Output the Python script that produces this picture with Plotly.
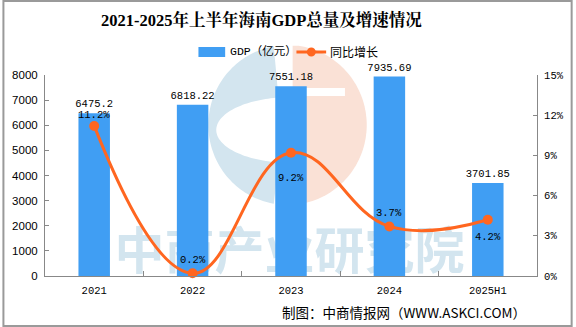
import numpy as np
import plotly.graph_objects as go

# Data
years = ["2021", "2022", "2023", "2024", "2025H1"]
gdp = [6475.2, 6818.22, 7551.18, 7935.69, 3701.85]
growth = [11.2, 0.2, 9.2, 3.7, 4.2]

# vertical offsets (px) of the growth labels relative to their markers
growth_label_shift = [11, 13, -25, 13, -17]

W, H = 576, 327
L, R, T, B = 43, 540, 75, 276  # plot area in pixels


def px(x):
    return (x - L) / (R - L)


def py(y):
    return (B - y) / (B - T)


BLUE = "#409EF3"
ORANGE = "#FF6620"
WM_BLUE = "#D3E5EF"
MONO = "Liberation Mono, DejaVu Sans Mono, monospace"
CJK = "Noto Sans CJK SC"

fig = go.Figure()

# Watermark text lives in the base subplot so the bars cover it
fig.add_trace(go.Scatter(
    x=[px(290)], y=[py(256)], xaxis="x", yaxis="y", mode="text",
    text=["<b>中商产业研究院</b>"], textposition="middle center",
    textfont=dict(family=CJK, size=50, color=WM_BLUE),
    hoverinfo="skip", showlegend=False, cliponaxis=False,
))

fig.add_trace(go.Bar(
    x=years, y=gdp, name="GDP（亿元）", xaxis="x2", yaxis="y2",
    marker=dict(color=BLUE, line=dict(width=0)),
    text=[f"{v:g}" for v in gdp], textposition="outside", constraintext="none",
    textfont=dict(family=MONO, size=10.5, color="#000"),
    cliponaxis=False, showlegend=False,
))

fig.add_trace(go.Scatter(
    x=years, y=growth, name="同比增长", xaxis="x2", yaxis="y3",
    mode="lines+markers",
    line=dict(color=ORANGE, width=3, shape="spline", smoothing=1.2),
    marker=dict(color=ORANGE, size=10),
    cliponaxis=False, showlegend=False,
))

annotations = []
# category positions are given by index so that year-like strings are not read as numbers
for i, (g, s) in enumerate(zip(growth, growth_label_shift)):
    annotations.append(dict(x=i, y=g, xref="x2", yref="y3", text=f"{g}%",
                            showarrow=False, yshift=s, xanchor="center", yanchor="middle",
                            font=dict(family=MONO, size=10.5, color="#000")))

# Watermark logo: blue "C" ring and peach half disc
cx, cy, r = 288, 125, 80
shapes = []
ang = np.linspace(np.deg2rad(100), np.deg2rad(260), 80)
outer = [(cx + r * np.cos(a), cy - r * np.sin(a)) for a in ang]
icx, icy, irx, iry = 292, 130, 76, 33
inner = [(icx + irx * np.cos(a), icy - iry * np.sin(a)) for a in ang[::-1]]
path = "M " + " L ".join(f"{px(x):.4f},{py(y):.4f}" for x, y in outer + inner) + " Z"
shapes.append(dict(type="path", xref="paper", yref="paper", path=path,
                   fillcolor=WM_BLUE, line=dict(width=0), layer="below"))
ang_p = np.linspace(np.deg2rad(-82), np.deg2rad(82), 80)
peach = [(cx + r * np.cos(a), cy - r * np.sin(a)) for a in ang_p]
pp = [(peach[0][0] - 6, peach[0][1])] + peach + [(peach[-1][0] - 6, peach[-1][1])]
ppath = "M " + " L ".join(f"{px(x):.4f},{py(y):.4f}" for x, y in pp) + " Z"
shapes.append(dict(type="path", xref="paper", yref="paper", path=ppath,
                   fillcolor="#FAE1D6", line=dict(width=0), layer="below"))
shapes.append(dict(type="rect", xref="paper", yref="paper",
                   x0=px(282), x1=px(346), y0=py(96), y1=py(88),
                   fillcolor="white", line=dict(width=0), layer="below"))

# legend drawn by hand: wide bar swatch and line-with-dot swatch
shapes.append(dict(type="rect", xref="paper", yref="paper",
                   x0=px(198), x1=px(225), y0=py(57), y1=py(47),
                   fillcolor=BLUE, line=dict(width=0)))
shapes.append(dict(type="line", xref="paper", yref="paper",
                   x0=px(297), x1=px(327), y0=py(52), y1=py(52),
                   line=dict(color=ORANGE, width=3)))
shapes.append(dict(type="circle", xref="paper", yref="paper",
                   x0=px(307.5), x1=px(316.5), y0=py(56.5), y1=py(47.5),
                   fillcolor=ORANGE, line=dict(width=0)))
annotations += [
    dict(text="GDP（亿元）", x=px(228), y=py(52), xref="paper", yref="paper",
         xanchor="left", yanchor="middle", showarrow=False,
         font=dict(family=MONO + ", " + CJK, size=11.5, color="#000")),
    dict(text="同比增长", x=px(329), y=py(52), xref="paper", yref="paper",
         xanchor="left", yanchor="middle", showarrow=False,
         font=dict(family=CJK, size=12, color="#000")),
]

# outer frame
shapes.append(dict(type="rect", xref="paper", yref="paper",
                   x0=px(1), x1=px(575), y0=py(326), y1=py(1),
                   line=dict(color="#9a9a9a", width=2), fillcolor="rgba(0,0,0,0)"))

annotations += [
    dict(text="<b>2021-2025年上半年海南GDP总量及增速情况</b>", x=px(262), y=py(20),
         xref="paper", yref="paper", xanchor="center", yanchor="middle", showarrow=False,
         font=dict(family="Liberation Serif, Noto Serif CJK SC, serif", size=16.5, color="#000")),
    dict(text="制图：中商情报网（WWW.ASKCI.COM）", x=px(406), y=py(312),
         xref="paper", yref="paper", xanchor="center", yanchor="middle", showarrow=False,
         font=dict(family=CJK, size=13.5, color="#000")),
]

fig.update_layout(
    width=W, height=H,
    margin=dict(l=L, r=W - R, t=T, b=H - B),
    paper_bgcolor="white", plot_bgcolor="rgba(0,0,0,0)",
    bargap=0.68,
    showlegend=False,
    # hidden base axes (unit square) for the watermark
    xaxis=dict(range=[0, 1], visible=False, fixedrange=True),
    yaxis=dict(range=[0, 1], visible=False, fixedrange=True),
    xaxis2=dict(type="category", range=[-0.5, 4.5], overlaying="x", showline=True,
                linecolor="#888", linewidth=1, ticks="inside", tickson="boundaries",
                ticklen=5, tickcolor="#888", ticklabelstandoff=4,
                tickfont=dict(family=MONO, size=10.5, color="#000"), showgrid=False),
    yaxis2=dict(range=[0, 8000], dtick=1000, overlaying="y", side="left", showline=True,
                linecolor="#888", ticks="inside", ticklen=4, tickcolor="#888",
                showgrid=False, zeroline=False, ticklabelstandoff=4,
                tickfont=dict(family="Liberation Sans, Arial", size=11.5, color="#000")),
    yaxis3=dict(range=[0, 15], dtick=3, ticksuffix="%", overlaying="y", side="right",
                showline=True, linecolor="#888", ticks="inside", ticklen=4, tickcolor="#888",
                showgrid=False, zeroline=False, ticklabelstandoff=4,
                tickfont=dict(family=MONO, size=10.5, color="#000")),
    shapes=shapes, annotations=annotations,
)

fig.write_html("out.html")
